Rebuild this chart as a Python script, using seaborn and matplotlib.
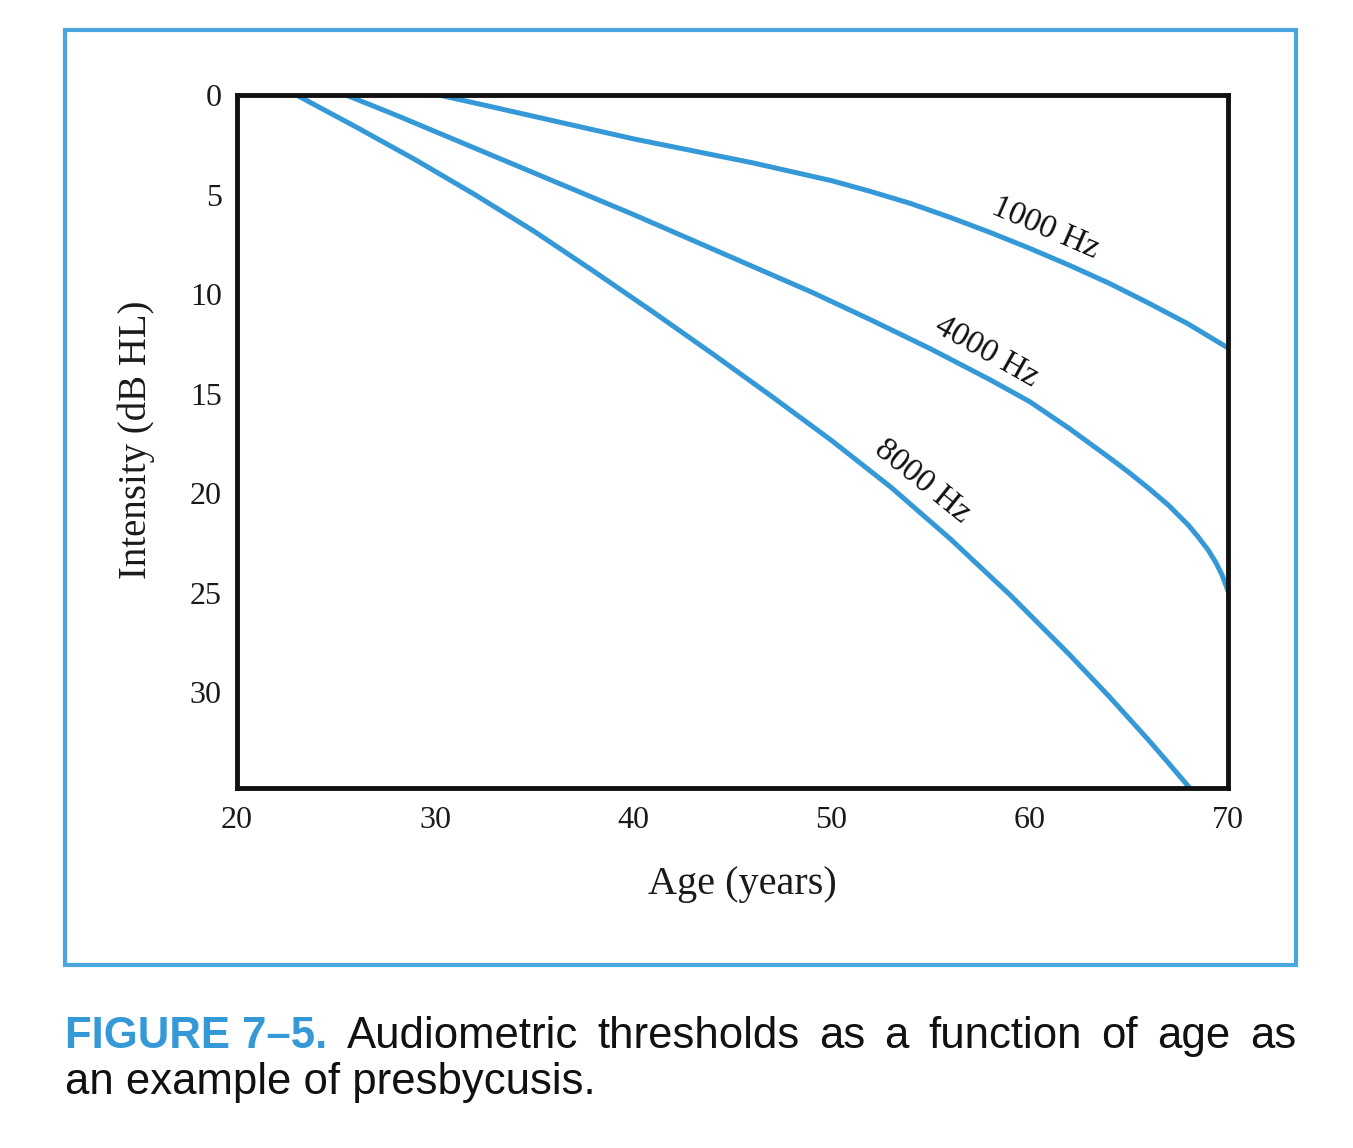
import pandas as pd
import matplotlib.pyplot as plt
import seaborn as sns
from matplotlib.patches import Rectangle

# data (age in years, threshold in dB HL)
age_1000 = [30.2, 32, 34, 36, 38, 40, 42, 44, 46, 48, 50, 52, 54, 56, 58, 60, 62, 64, 66, 68, 70]
db_1000 = [0.0, 0.4, 0.85, 1.3, 1.75, 2.2, 2.6, 3.0, 3.4, 3.85, 4.3, 4.85, 5.45,
           6.15, 6.9, 7.7, 8.55, 9.45, 10.45, 11.5, 12.7]

age_4000 = [25.5, 28, 31, 34, 37, 40, 43, 46, 49, 52, 55, 58, 60, 62, 64, 65, 66,
            67, 67.5, 68, 68.5, 69, 69.4, 69.7, 70]
db_4000 = [0.0, 1.0, 2.25, 3.5, 4.75, 6.0, 7.3, 8.6, 9.9, 11.3, 12.75, 14.3, 15.4,
           16.75, 18.2, 18.95, 19.75, 20.6, 21.1, 21.6, 22.2, 22.85, 23.5, 24.1, 24.9]

age_8000 = [23.0, 26, 29, 32, 35, 38, 41, 44, 47, 50, 53, 56, 59, 62, 64, 66, 67, 68.2]
db_8000 = [0.0, 1.6, 3.25, 5.0, 6.85, 8.85, 10.9, 13.0, 15.15, 17.35, 19.7, 22.3,
           25.1, 28.1, 30.2, 32.4, 33.55, 34.95]

freq_labels = ["1000 Hz", "4000 Hz", "8000 Hz"]
x_ticks = [20, 30, 40, 50, 60, 70]
y_ticks = [0, 5, 10, 15, 20, 25, 30]

df = pd.concat([
    pd.DataFrame({"age": age_1000, "db": db_1000, "freq": freq_labels[0]}),
    pd.DataFrame({"age": age_4000, "db": db_4000, "freq": freq_labels[1]}),
    pd.DataFrame({"age": age_8000, "db": db_8000, "freq": freq_labels[2]}),
])

blue = "#3599d8"
sns.set_theme(style="white")
plt.rcParams["font.family"] = ["Liberation Serif", "DejaVu Serif"]

fig = plt.figure(figsize=(13.53, 11.48), dpi=100)
ax = fig.add_axes([0.1752, 0.3136, 0.7324, 0.6036])

sns.lineplot(data=df, x="age", y="db", hue="freq", palette=[blue] * 3,
             linewidth=3.6, legend=False, sort=False, ax=ax)
for ln in ax.get_lines():
    ln.set_solid_joinstyle("round")

ax.set_xlim(20, 70)
ax.set_ylim(34.8, 0)
ax.set_xticks(x_ticks)
ax.set_yticks(y_ticks)
ax.tick_params(axis="x", length=0, labelsize=23, pad=13, colors="#1a1a1a")
ax.tick_params(axis="y", length=0, labelsize=23, pad=11, colors="#1a1a1a")
ax.set_xlabel("Age (years)", fontsize=29, color="#1a1a1a")
ax.set_ylabel("Intensity (dB HL)", fontsize=28, color="#1a1a1a")
ax.xaxis.set_label_coords(0.51, -0.112)
ax.yaxis.set_label_coords(-0.083, 0.502)
for s in ax.spines.values():
    s.set_visible(True)
    s.set_color("#111111")
    s.set_linewidth(3.5)

# curve labels
ax.text(60.8, 6.7, freq_labels[0], fontsize=24, rotation=-23.5,
        ha="center", va="center", rotation_mode="anchor", color="#111111")
ax.text(57.8, 12.9, freq_labels[1], fontsize=24, rotation=-29.5,
        ha="center", va="center", rotation_mode="anchor", color="#111111")
ax.text(54.6, 19.4, freq_labels[2], fontsize=24, rotation=-39,
        ha="center", va="center", rotation_mode="anchor", color="#111111")

# blue frame around the figure panel
fig.patches.append(Rectangle((0.048, 0.1594), 0.910, 0.8145, transform=fig.transFigure,
                             fill=False, edgecolor="#4aa6df", linewidth=3))

# caption, first line justified between the frame edges
cap_font = ["Liberation Sans", "DejaVu Sans"]
cap_size = 31.5
line1 = ["FIGURE 7\u20135."] + "Audiometric thresholds as a function of age as".split()
x_left, x_right = 0.048, 0.958
texts = []
for i, w in enumerate(line1):
    texts.append(fig.text(x_left, 0.0871, w, fontsize=cap_size, family=cap_font,
                          color=blue if i == 0 else "#111111",
                          fontweight="bold" if i == 0 else "normal", va="baseline"))
fig.canvas.draw()
widths = [t.get_window_extent().width / fig.bbox.width for t in texts]
gap = (x_right - x_left - sum(widths)) / (len(texts) - 1)
xpos = x_left
for t, w in zip(texts, widths):
    t.set_x(xpos)
    xpos += w + gap
fig.text(x_left, 0.0470, "an example of presbycusis.", fontsize=cap_size,
         family=cap_font, color="#111111", va="baseline")

fig.savefig("out.png", dpi=100)
